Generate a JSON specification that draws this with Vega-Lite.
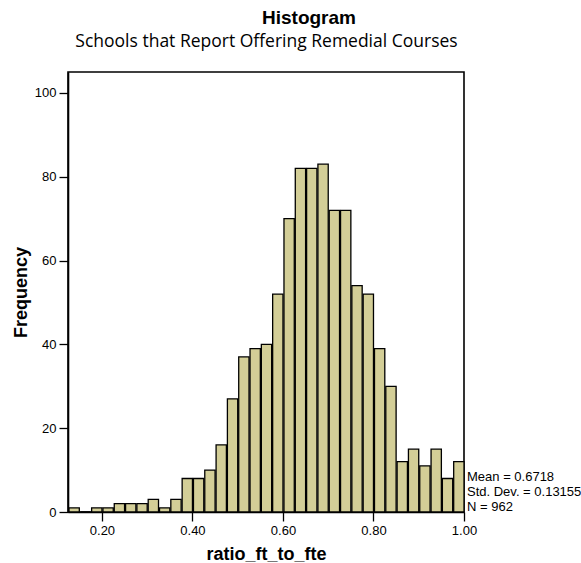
{
  "$schema": "https://vega.github.io/schema/vega-lite/v6.json",
  "width": 396,
  "height": 440,
  "autosize": "none",
  "padding": {"left": 68, "top": 72, "right": 117, "bottom": 51},
  "background": "white",
  "title": {"text": "Histogram", "dx": 43, "font": "Liberation Sans", "fontSize": 19, "fontWeight": "bold", "color": "black", "offset": 4},
  "config": {
    "view": {"stroke": "black", "strokeWidth": 1.6},
    "axis": {"labelFont": "Liberation Sans", "titleFont": "Liberation Sans", "labelColor": "black", "titleColor": "black", "domainColor": "black", "tickColor": "black", "grid": false}
  },
  "datasets": {
    "bins": [
      {"bin_start": 0.125, "bin_end": 0.15, "count": 1},
      {"bin_start": 0.15, "bin_end": 0.175, "count": 0},
      {"bin_start": 0.175, "bin_end": 0.2, "count": 1},
      {"bin_start": 0.2, "bin_end": 0.225, "count": 1},
      {"bin_start": 0.225, "bin_end": 0.25, "count": 2},
      {"bin_start": 0.25, "bin_end": 0.275, "count": 2},
      {"bin_start": 0.275, "bin_end": 0.3, "count": 2},
      {"bin_start": 0.3, "bin_end": 0.325, "count": 3},
      {"bin_start": 0.325, "bin_end": 0.35, "count": 1},
      {"bin_start": 0.35, "bin_end": 0.375, "count": 3},
      {"bin_start": 0.375, "bin_end": 0.4, "count": 8},
      {"bin_start": 0.4, "bin_end": 0.425, "count": 8},
      {"bin_start": 0.425, "bin_end": 0.45, "count": 10},
      {"bin_start": 0.45, "bin_end": 0.475, "count": 16},
      {"bin_start": 0.475, "bin_end": 0.5, "count": 27},
      {"bin_start": 0.5, "bin_end": 0.525, "count": 37},
      {"bin_start": 0.525, "bin_end": 0.55, "count": 39},
      {"bin_start": 0.55, "bin_end": 0.575, "count": 40},
      {"bin_start": 0.575, "bin_end": 0.6, "count": 52},
      {"bin_start": 0.6, "bin_end": 0.625, "count": 70},
      {"bin_start": 0.625, "bin_end": 0.65, "count": 82},
      {"bin_start": 0.65, "bin_end": 0.675, "count": 82},
      {"bin_start": 0.675, "bin_end": 0.7, "count": 83},
      {"bin_start": 0.7, "bin_end": 0.725, "count": 72},
      {"bin_start": 0.725, "bin_end": 0.75, "count": 72},
      {"bin_start": 0.75, "bin_end": 0.775, "count": 54},
      {"bin_start": 0.775, "bin_end": 0.8, "count": 52},
      {"bin_start": 0.8, "bin_end": 0.825, "count": 39},
      {"bin_start": 0.825, "bin_end": 0.85, "count": 30},
      {"bin_start": 0.85, "bin_end": 0.875, "count": 12},
      {"bin_start": 0.875, "bin_end": 0.9, "count": 15},
      {"bin_start": 0.9, "bin_end": 0.925, "count": 11},
      {"bin_start": 0.925, "bin_end": 0.95, "count": 15},
      {"bin_start": 0.95, "bin_end": 0.975, "count": 8},
      {"bin_start": 0.975, "bin_end": 1.0, "count": 12}
    ],
    "stats": [
      {"stats": "Mean = 0.6718|Std. Dev. = 0.13155|N = 962"}
    ]
  },
  "layer": [
    {
      "data": {"name": "bins"},
      "mark": {"type": "bar", "fill": "#D3CE97", "stroke": "black", "strokeWidth": 1.3},
      "encoding": {
        "x": {
          "field": "bin_start", "type": "quantitative", "bin": "binned",
          "scale": {"domain": [0.125, 1.0], "nice": false, "zero": false},
          "axis": {"orient": "bottom", "values": [0.2, 0.4, 0.6, 0.8, 1.0], "format": ".2f", "tickSize": 9, "tickWidth": 1.3, "domainWidth": 1.6, "labelFontSize": 13, "labelPadding": 3, "labelFlush": false, "title": "ratio_ft_to_fte", "titleFontSize": 18, "titleFontWeight": "bold", "titlePadding": 8}
        },
        "x2": {"field": "bin_end"},
        "y": {
          "field": "count", "type": "quantitative",
          "scale": {"domain": [0, 105], "nice": false},
          "axis": {"values": [0, 20, 40, 60, 80, 100], "tickSize": 9, "tickWidth": 1.3, "domainWidth": 1.6, "labelFontSize": 13, "labelPadding": 3, "title": "Frequency", "titleFontSize": 18, "titleFontWeight": "bold", "titlePadding": 4}
        }
      }
    },
    {
      "data": {"name": "bins"},
      "mark": {"type": "point", "opacity": 0},
      "encoding": {
        "x": {
          "field": "bin_start", "type": "quantitative",
          "axis": {"orient": "top", "labels": false, "ticks": false, "domain": false, "title": "Schools that Report Offering Remedial Courses", "titleFont": "Open Sans", "titleFontSize": 17.5, "titleFontWeight": "normal", "titleBaseline": "alphabetic", "titlePadding": 26}
        }
      }
    },
    {
      "data": {"name": "stats"},
      "mark": {"type": "text", "align": "left", "baseline": "bottom", "lineBreak": "|", "lineHeight": 15, "dx": 3, "dy": -28, "fontSize": 13, "font": "Liberation Sans", "color": "black"},
      "encoding": {
        "x": {"datum": 1.0, "type": "quantitative", "axis": null},
        "y": {"datum": 0, "type": "quantitative"},
        "text": {"field": "stats"}
      }
    }
  ],
  "resolve": {"axis": {"x": "independent"}}
}
